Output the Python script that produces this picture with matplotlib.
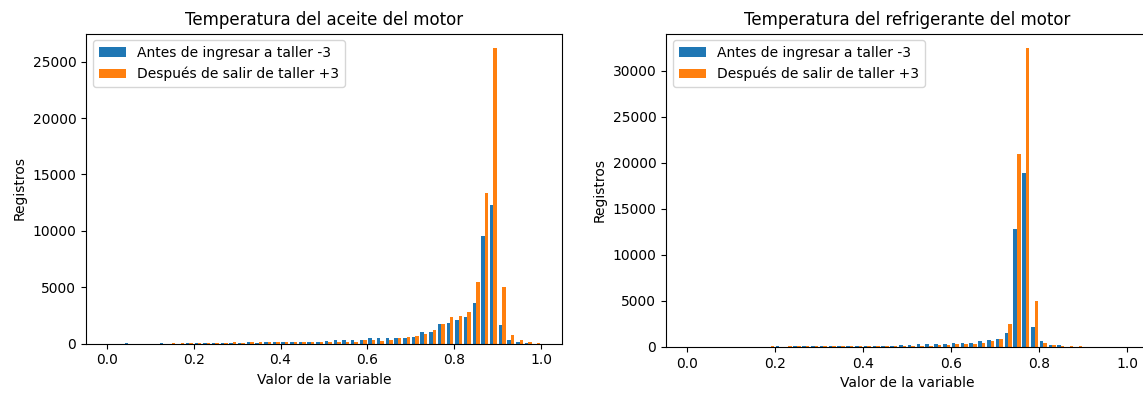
import numpy as np
import matplotlib
matplotlib.use("Agg")
import matplotlib.pyplot as plt

# Histogram bins: 50 equal bins over the normalised range [0, 1]
bin_edges = np.linspace(0.0, 1.0, 51)
bin_centers = (bin_edges[:-1] + bin_edges[1:]) / 2

series_labels = ["Antes de ingresar a taller -3", "Después de salir de taller +3"]

# Engine oil temperature: record counts per bin
aceite_antes = [
    0, 0, 40, 0, 0, 0, 40, 0, 0, 70,
    30, 60, 70, 80, 70, 80, 90, 80, 90, 100,
    90, 100, 110, 120, 130, 200, 300, 300, 300, 300,
    445, 445, 445, 445, 445, 535, 1040, 1060, 1690, 1780,
    2080, 2320, 3560, 9560, 12300, 1630, 300, 150, 30, 0,
]
aceite_despues = [
    0, 0, 0, 0, 0, 0, 0, 40, 50, 40,
    70, 60, 80, 70, 90, 80, 90, 90, 100, 90,
    100, 110, 100, 120, 140, 150, 150, 150, 150, 300,
    300, 240, 300, 445, 535, 680, 800, 1190, 1690, 2320,
    2470, 2820, 5490, 13370, 26200, 4990, 710, 300, 150, 30,
]

# Engine coolant temperature: record counts per bin
refrigerante_antes = [
    0, 0, 0, 0, 0, 0, 50, 0, 0, 0,
    60, 0, 70, 70, 80, 90, 90, 100, 110, 120,
    130, 140, 150, 160, 170, 200, 290, 290, 290, 290,
    470, 440, 440, 620, 800, 910, 1565, 12850, 18930, 2180,
    700, 255, 180, 30, 0, 0, 0, 0, 0, 0,
]
refrigerante_despues = [
    0, 0, 0, 0, 0, 0, 0, 0, 0, 60,
    0, 70, 60, 70, 80, 80, 90, 90, 100, 100,
    110, 110, 120, 130, 140, 150, 150, 150, 180, 180,
    290, 290, 360, 440, 620, 910, 2475, 20930, 32400, 5020,
    440, 180, 110, 110, 110, 0, 0, 0, 0, 0,
]

titles = ["Temperatura del aceite del motor", "Temperatura del refrigerante del motor"]
x_label = "Valor de la variable"
y_label = "Registros"

W, H = 1143, 394
DPI = 100
fig = plt.figure(figsize=(W / DPI, H / DPI), dpi=DPI)


def px_axes(left, right, top, bottom):
    return fig.add_axes([left / W, 1 - bottom / H, (right - left) / W, (bottom - top) / H])


ax1 = px_axes(86, 562, 33.5, 343.5)
ax2 = px_axes(666, 1148, 33.5, 347)

panels = [
    (ax1, aceite_antes, aceite_despues, titles[0]),
    (ax2, refrigerante_antes, refrigerante_despues, titles[1]),
]

for ax, antes, despues, title in panels:
    ax.hist(
        [bin_centers, bin_centers],
        bins=bin_edges,
        weights=[antes, despues],
        label=series_labels,
        color=["#1f77b4", "#ff7f0e"],
    )
    ax.set_title(title)
    ax.set_xlabel(x_label)
    ax.set_ylabel(y_label)
    ax.legend(loc="upper left")

fig.savefig("out.png", dpi=DPI)
